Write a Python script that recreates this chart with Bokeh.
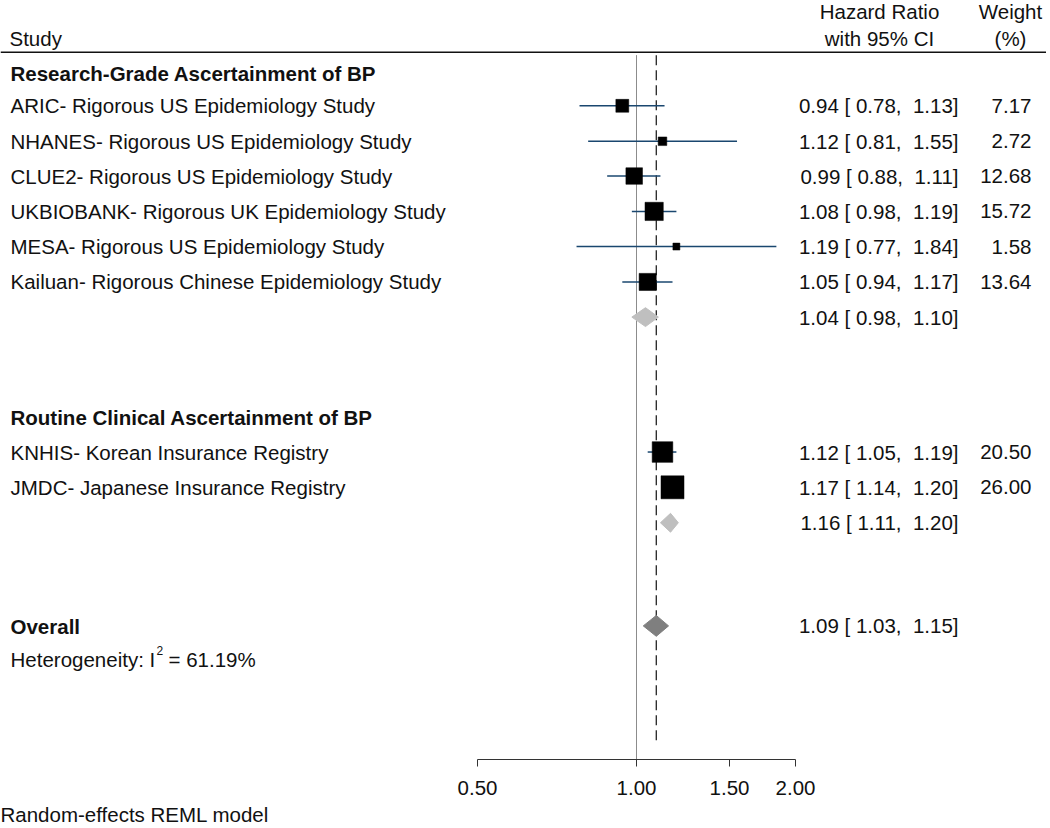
from bokeh.plotting import figure
from bokeh.models import Range1d, LinearScale, FixedTicker, PrintfTickFormatter, Title, ColumnDataSource
from bokeh.core.properties import value
from bokeh.embed import file_html
from bokeh.resources import INLINE

# ---------------- data ----------------
studies = [
    "ARIC- Rigorous US Epidemiology Study",
    "NHANES- Rigorous US Epidemiology Study",
    "CLUE2- Rigorous US Epidemiology Study",
    "UKBIOBANK- Rigorous UK Epidemiology Study",
    "MESA- Rigorous US Epidemiology Study",
    "Kailuan- Rigorous Chinese Epidemiology Study",
    "KNHIS- Korean Insurance Registry",
    "JMDC- Japanese Insurance Registry",
]
hr = [0.94, 1.12, 0.99, 1.08, 1.19, 1.05, 1.12, 1.17]
ci_lo = [0.78, 0.81, 0.88, 0.98, 0.77, 0.94, 1.05, 1.14]
ci_hi = [1.13, 1.55, 1.11, 1.19, 1.84, 1.17, 1.19, 1.20]
weight = [7.17, 2.72, 12.68, 15.72, 1.58, 13.64, 20.50, 26.00]

groups = ["Research-Grade Ascertainment of BP", "Routine Clinical Ascertainment of BP"]
group_hr = [1.04, 1.16]
group_lo = [0.98, 1.11]
group_hi = [1.10, 1.20]

overall_hr = 1.09
overall_lo = 1.03
overall_hi = 1.15
i2 = 61.19

ticks = [0.5, 1.0, 1.5, 2.0]

# ---------------- layout (screen-like row positions) ----------------
study_y = [106, 141.7, 176.7, 212.3, 247.7, 283.3, 454.5, 490]
group_header_y = [73, 420]
group_diamond_y = [318.7, 525.7]
overall_y = 629.5
het_y = 663
AXIS_Y = 764

FONT = value("Liberation Sans")
FS = "20.5px"

px_lo, px_hi = 0, 1046
log_px0, log_scale = 636.0, 159.0  # pixel of HR=1 and pixels per doubling


def px2hr(px):
    return 2 ** ((px - log_px0) / log_scale)


p = figure(frame_width=px_hi - px_lo, frame_height=759, x_axis_type="log",
           x_range=Range1d(px2hr(px_lo), px2hr(px_hi)),
           y_range=Range1d(AXIS_Y, 0),
           y_axis_location=None, toolbar_location=None,
           output_backend="svg", min_border=0, outline_line_color=None)
p.xgrid.visible = False
p.ygrid.visible = False
p.extra_x_ranges = {"px": Range1d(px_lo, px_hi)}
p.extra_x_scales = {"px": LinearScale()}

ax = p.xaxis[0]
ax.ticker = FixedTicker(ticks=ticks, minor_ticks=[])
ax.bounds = (ticks[0], ticks[-1])
ax.formatter = PrintfTickFormatter(format="%.2f")
ax.major_tick_out = 7
ax.major_tick_in = 0
ax.minor_tick_in = 0
ax.minor_tick_out = 0
ax.axis_line_color = "#333333"
ax.major_tick_line_color = "#333333"
ax.major_label_text_font = "Liberation Sans"
ax.major_label_text_font_size = FS
ax.major_label_text_color = "#111111"
ax.major_label_standoff = 14

t = Title(text="Random-effects REML model", align="left", text_font_size=FS,
          text_font_style="normal", text_font="Liberation Sans", text_color="#111111",
          standoff=7)
p.add_layout(t, "below")

# reference lines
p.segment(x0=[1.0], x1=[1.0], y0=[55], y1=[AXIS_Y], line_color="#8c8c8c", line_width=1)
p.segment(x0=[overall_hr], x1=[overall_hr], y0=[55], y1=[747], line_color="#111111",
          line_width=1.2, line_dash="10 5")

# header rule
p.segment(x0=[px_lo], x1=[px_hi], y0=[52], y1=[52], x_range_name="px",
          line_color="#111111", line_width=1.5)

# CI lines + weighted squares
src = ColumnDataSource(dict(hr=hr, lo=ci_lo, hi=ci_hi, y=study_y,
                            size=[1.75 + 4.17 * w ** 0.5 for w in weight]))
p.segment(x0="lo", x1="hi", y0="y", y1="y", source=src, line_color="#1A476F", line_width=1.5)
p.scatter(x="hr", y="y", size="size", marker="square", source=src,
          fill_color="black", line_color="black", line_width=0.5)


# diamonds
def diamond(est, lo, hi, y, h):
    return [lo, est, hi, est], [y, y - h, y, y + h]


dxs, dys = [], []
for e, l, u, y in zip(group_hr, group_lo, group_hi, group_diamond_y):
    xs, ys = diamond(e, l, u, y, 9.5)
    dxs.append(xs)
    dys.append(ys)
p.patches(xs=dxs, ys=dys, fill_color="#BFBFBF", line_color="#BFBFBF")
oxs, oys = diamond(overall_hr, overall_lo, overall_hi, overall_y, 10.5)
p.patches(xs=[oxs], ys=[oys], fill_color="#7F7F7F", line_color="#7F7F7F")

common = dict(x_range_name="px", text_font=FONT, text_font_size=FS,
              text_baseline="middle", text_color="#111111")

# headers
p.text(x=[9], y=[38], text=["Study"], text_align="left", **common)
p.text(x=[879, 879], y=[11, 38], text=["Hazard Ratio", "with 95% CI"], text_align="center", **common)
p.text(x=[1010, 1010], y=[11, 38], text=["Weight", "(%)"], text_align="center", **common)

# group headers
p.text(x=[10, 10], y=group_header_y, text=groups, text_align="left",
       text_font_style="bold", **common)
p.text(x=[10], y=[overall_y + 1], text=["Overall"], text_align="left",
       text_font_style="bold", **common)

# study labels
p.text(x=[10] * len(studies), y=study_y, text=studies, text_align="left", **common)


def fmt(e, l, u):
    return f"{e:.2f} [ {l:.2f},\u00a0 {u:.2f}]"


hr_texts = [fmt(e, l, u) for e, l, u in zip(hr, ci_lo, ci_hi)]
hr_texts += [fmt(e, l, u) for e, l, u in zip(group_hr, group_lo, group_hi)]
hr_texts += [fmt(overall_hr, overall_lo, overall_hi)]
hr_ys = study_y + group_diamond_y + [overall_y]
p.text(x=[958] * len(hr_texts), y=hr_ys, text=hr_texts, text_align="right", **common)

p.text(x=[1031] * len(weight), y=study_y, text=[f"{w:.2f}" for w in weight],
       text_align="right", **common)

# heterogeneity
p.text(x=[10], y=[het_y], text=["Heterogeneity: I"], text_align="left", **common)
p.text(x=[156], y=[het_y - 9], text=["2"], text_align="left", x_range_name="px",
       text_font=FONT, text_font_size="12px", text_baseline="middle", text_color="#111111")
p.text(x=[168], y=[het_y], text=[f"= {i2:.2f}%"], text_align="left", **common)

open("out.html", "w").write(file_html(p, INLINE))
